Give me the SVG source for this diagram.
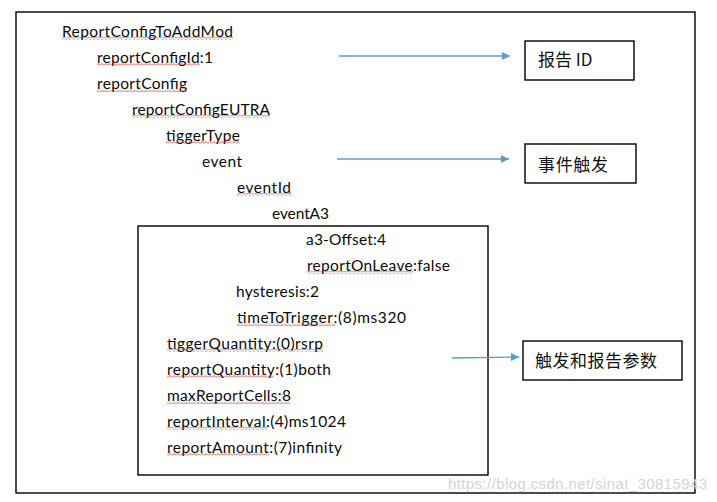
<svg xmlns="http://www.w3.org/2000/svg" width="717" height="502" viewBox="0 0 717 502">
<style>
.t{font-family:Lato,"Open Sans","Liberation Sans",sans-serif;font-size:15.5px;fill:#0a0a0a}
.cn{font-family:"Noto Sans CJK SC","Noto Sans",sans-serif;font-size:17px;fill:#111}
.box{fill:none;stroke:#000;stroke-width:1.4}
.arr{stroke:#5B9BD5;stroke-width:1.4;fill:none;marker-end:url(#ah)}
.wv{fill:url(#wave)}
.wm{font-family:"Liberation Sans",Arial,sans-serif;font-size:15px;fill:#d4d4d4}
</style>
<defs>
<marker id="ah" viewBox="0 0 10 10" refX="10" refY="5" markerWidth="10" markerHeight="8" markerUnits="userSpaceOnUse" orient="auto">
<path d="M0,0 L10,5 L0,10 z" fill="#5B9BD5"/>
</marker>
<pattern id="wave" patternUnits="userSpaceOnUse" width="4" height="3">
<path d="M0,2.5 L2,0.5 L4,2.5" fill="none" stroke="#e0201b" stroke-width="0.8"/>
</pattern>
</defs>
<rect width="717" height="502" fill="#fff"/>
<rect id="frame" class="box" x="16" y="12" width="679" height="481"/>
<g id="params-box"><rect class="box" x="138" y="226" width="350" height="249"/></g>
<g id="tree">
<text class="t" x="62" y="37" textLength="171">ReportConfigToAddMod</text>
<text class="t" x="97" y="63" textLength="116">reportConfigId:1</text>
<text class="t" x="97" y="89" textLength="90">reportConfig</text>
<text class="t" x="132" y="115" textLength="138">reportConfigEUTRA</text>
<text class="t" x="166" y="141" textLength="74">tiggerType</text>
<text class="t" x="202" y="167" textLength="40">event</text>
<text class="t" x="237" y="193" textLength="54">eventId</text>
<text class="t" x="272" y="219" textLength="57">eventA3</text>
<text class="t" x="306" y="245" textLength="80">a3-Offset:4</text>
<text class="t" x="307" y="271" textLength="143">reportOnLeave:false</text>
<text class="t" x="236" y="297" textLength="83">hysteresis:2</text>
<text class="t" x="237" y="323" textLength="169">timeToTrigger:(8)ms320</text>
<text class="t" x="167" y="349" textLength="156">tiggerQuantity:(0)rsrp</text>
<text class="t" x="167" y="375" textLength="164">reportQuantity:(1)both</text>
<text class="t" x="167" y="401" textLength="124">maxReportCells:8</text>
<text class="t" x="167" y="427" textLength="179">reportInterval:(4)ms1024</text>
<text class="t" x="167" y="453" textLength="175">reportAmount:(7)infinity</text>
</g>
<g id="spell-underlines">
<rect class="wv" x="62" y="37" width="171" height="3"/>
<rect class="wv" x="97" y="63" width="103" height="3"/>
<rect class="wv" x="97" y="89" width="90" height="3"/>
<rect class="wv" x="132" y="115" width="138" height="3"/>
<rect class="wv" x="166" y="141" width="74" height="3"/>
<rect class="wv" x="237" y="193" width="55" height="3"/>
<rect class="wv" x="307" y="271" width="106" height="3"/>
<rect class="wv" x="237" y="323" width="98" height="3"/>
<rect class="wv" x="167" y="349" width="156" height="3"/>
<rect class="wv" x="167" y="375" width="107" height="3"/>
<rect class="wv" x="167" y="401" width="123" height="3"/>
<rect class="wv" x="167" y="427" width="101" height="3"/>
<rect class="wv" x="167" y="453" width="102" height="3"/>
</g>
<g id="label-report-id">
<rect class="box" x="525" y="41" width="109" height="39"/>
<text class="cn" x="538" y="66">报告 ID</text>
</g>
<g id="label-event-trigger">
<rect class="box" x="525" y="144" width="111" height="39"/>
<text class="cn" x="538" y="171" textLength="70">事件触发</text>
</g>
<g id="label-params">
<rect class="box" x="523" y="341" width="159" height="39"/>
<text class="cn" x="535" y="367" textLength="122">触发和报告参数</text>
</g>
<g id="connectors">
<line class="arr" x1="339" y1="56" x2="510" y2="56"/>
<line class="arr" x1="337" y1="159" x2="509" y2="159"/>
<line class="arr" x1="452" y1="358" x2="519" y2="357"/>
</g>
<text class="wm" x="448" y="489" textLength="259">https://blog.csdn.net/sinat_30815943</text>
</svg>
